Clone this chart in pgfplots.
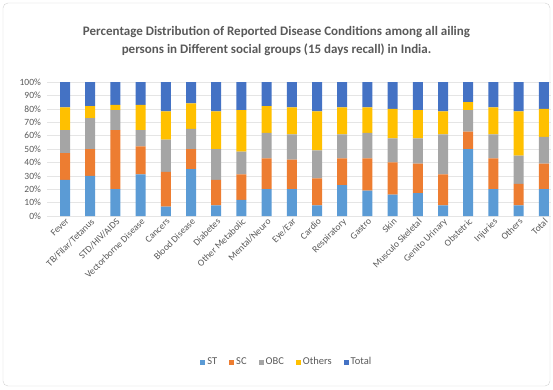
\documentclass[border=0pt]{standalone}
\usepackage{pgfplots}
\usepackage{pgfplotstable}
\pgfplotsset{compat=1.18}
\usepackage{fontspec}
\setmainfont{Carlito}
\definecolor{cST}{HTML}{5B9BD5}
\definecolor{cSC}{HTML}{ED7D31}
\definecolor{cOBC}{HTML}{A5A5A5}
\definecolor{cOth}{HTML}{FFC000}
\definecolor{cTot}{HTML}{4472C4}
\definecolor{txt}{HTML}{595959}
\pgfplotstableread{
x ST SC OBC Oth Tot
0 27 20 17 17 19
1 30 20 23 9 18
2 20 44 15 4 17
3 31 21 12 19 17
4 7 26 24 21 22
5 35 15 15 19 16
6 8 19 23 28 22
7 12 19 17 31 21
8 20 23 19 20 18
9 20 22 19 20 19
10 8 20 21 29 22
11 23 20 18 20 19
12 19 24 19 19 19
13 16 24 18 22 20
14 17 22 19 21 21
15 8 23 30 17 22
16 50 13 16 6 15
17 20 23 18 20 19
18 8 16 21 33 22
19 20 19 20 21 20
}\datatable
\begin{document}
\begin{tikzpicture}
\path (0,0) rectangle (553pt,389pt);
\draw[gray!35, rounded corners=5pt] (3pt,3pt) rectangle (550pt,386pt);
\node[align=center, text=txt, font=\fontsize{13}{18}\selectfont\bfseries] at (276.5pt,348pt)
 {Percentage Distribution of Reported Disease Conditions among all ailing\\persons in Different social groups (15 days recall) in India.};
\begin{axis}[
  at={(47.4pt,173pt)}, anchor=south west,
  width=504pt, height=134pt, scale only axis,
  ybar stacked, bar width=10pt,
  xmin=-0.7, xmax=19.3, ymin=0, ymax=100,
  ytick={0,10,...,100},
  yticklabel={\pgfmathprintnumber{\tick}\%},
  xtick=data,
  xticklabels={Fever,TB/Filar/Tetanus,STD/HIV/AIDS,Vectorborne Disease,Cancers,Blood Disease,Diabetes,Other Metabolic,Mental/Neuro,Eye/Ear,Cardio,Respiratory,Gastro,Skin,Musculo Skeletal,Genito Urinary,Obstetric,Injuries,Others,Total},
  xticklabel style={rotate=45, anchor=north east, inner sep=1pt, font=\fontsize{9.5}{10}\selectfont, text=txt},
  yticklabel style={font=\fontsize{9.5}{10}\selectfont, text=txt, xshift=-3pt},
  /pgf/number format/assume math mode=true,
  major tick length=0pt,
  axis line style={draw=none},
  ymajorgrids, grid style={draw=gray!20},
  legend style={at={(0.475,-1.09)}, anchor=center, draw=none, legend columns=-1,
    font=\fontsize{10.5}{11}\selectfont, text=txt,
    /tikz/every even column/.append style={column sep=10pt}},
  legend image code/.code={\fill[#1] (0pt,-2.5pt) rectangle (5pt,2.5pt);},
]
\addplot[fill=cST, draw=none] table[x=x,y=ST]{\datatable};
\addplot[fill=cSC, draw=none] table[x=x,y=SC]{\datatable};
\addplot[fill=cOBC, draw=none] table[x=x,y=OBC]{\datatable};
\addplot[fill=cOth, draw=none] table[x=x,y=Oth]{\datatable};
\addplot[fill=cTot, draw=none] table[x=x,y=Tot]{\datatable};
\legend{ST,SC,OBC,Others,Total}
\end{axis}
\end{tikzpicture}
\end{document}
